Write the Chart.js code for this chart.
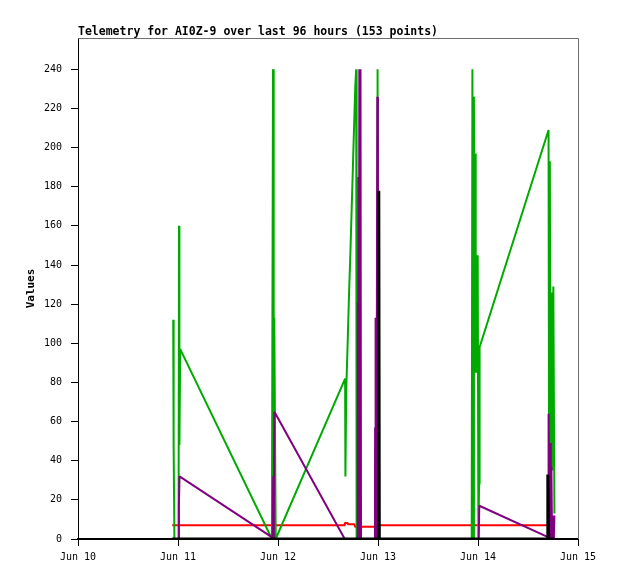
<!DOCTYPE html>
<html>
<head>
<meta charset="utf-8">
<title>Telemetry AI0Z-9</title>
<script src="https://cdn.jsdelivr.net/npm/chart.js@4/dist/chart.umd.min.js"></script>
<style>
  body { margin: 0; background: #fff; }
  #wrap { width: 618px; height: 579px; }
</style>
</head>
<body>
<div id="wrap"><canvas id="myChartTelemetry" width="618" height="579"></canvas></div>
<script>
// hours since Jun 10 00:00
const xTickHours = [0, 24, 48, 72, 96, 120];
const xTickLabels = ['Jun 10', 'Jun 11', 'Jun 12', 'Jun 13', 'Jun 14', 'Jun 15'];
const yTicks = [0, 20, 40, 60, 80, 100, 120, 140, 160, 180, 200, 220, 240];

const greenHours = [22.85, 22.95, 23.14, 24.14, 24.24, 24.34, 24.53, 46.54, 46.80, 46.97, 47.11, 47.45,
  64.11, 64.18, 64.37, 64.62, 64.86, 65.09, 65.36, 65.60, 65.84, 66.08, 66.32, 66.56, 66.77, 66.87,
  71.81, 71.90, 72.00, 94.49, 94.66, 94.82, 95.02, 95.16, 95.30, 95.45, 95.59, 95.74, 95.93, 96.10, 96.26, 96.38,
  112.93, 113.07, 113.24, 113.41, 113.60, 113.79, 114.08, 114.34];
const greenValues = [112, 48, 0, 0, 160, 48, 97, 0, 240, 0, 113, 0,
  82, 32, 76, 93, 111, 128, 145, 163, 180, 198, 215, 232, 240, 0,
  0, 240, 0, 0, 240, 0, 226, 113, 197, 85, 141, 85, 145, 0, 28, 98,
  209, 20, 193, 30, 126, 35, 129, 13];

const purpleHours = [24.10, 24.22, 24.36, 46.51, 46.71, 46.85, 46.99, 47.14, 64.02,
  67.01, 67.11, 67.18, 67.28, 67.37, 67.52, 67.68, 67.80, 67.92,
  71.26, 71.30, 71.38, 71.47, 71.62, 71.83, 71.98, 96.17, 96.31,
  112.81, 112.88, 113.00, 113.14, 113.31, 113.46, 113.62, 113.77, 114.01, 114.20, 114.34];
const purpleValues = [0, 17, 32, 1, 0, 32, 0, 65, 0,
  0, 121, 0, 185, 0, 240, 0, 240, 0,
  0, 57, 0, 113, 0, 226, 0, 0, 17,
  1, 0, 64, 0, 49, 0, 37, 0, 12, 0, 12];

const blackHours = [22.61, 72.10, 72.19, 72.31, 112.66, 112.76, 112.95, 114.44];
const blackValues = [0, 0, 178, 0, 0, 33, 0, 0];

const redHours = [22.61, 63.97, 64.04, 64.69, 64.76, 66.37, 66.49, 71.93, 72.00, 112.76];
const redValues = [7, 7, 8.2, 8.2, 7.5, 7.5, 6.2, 6.2, 7, 7];

function pts(hours, values) {
  return hours.map((h, i) => ({ x: h, y: values[i] }));
}

function serie(hours, values, color, width) {
  return {
    data: pts(hours, values),
    borderColor: color,
    borderWidth: width,
    borderJoinStyle: 'bevel',
    pointRadius: 0,
    tension: 0,
    fill: false
  };
}

// title text and grey frame, gnuplot style
const frameAndTitle = {
  id: 'frameAndTitle',
  beforeDatasetsDraw(chart) {
    const { ctx, chartArea } = chart;
    ctx.save();
    ctx.strokeStyle = '#6e6e6e';
    ctx.lineWidth = 1;
    ctx.beginPath();
    ctx.moveTo(chartArea.left, chartArea.top + 0.5);
    ctx.lineTo(chartArea.right + 0.5, chartArea.top + 0.5);
    ctx.lineTo(chartArea.right + 0.5, chartArea.bottom);
    ctx.stroke();
    ctx.restore();
  },
  afterDraw(chart) {
    const { ctx, chartArea } = chart;
    ctx.save();
    ctx.fillStyle = '#000';
    ctx.font = 'bold 11.5px "DejaVu Sans Mono"';
    ctx.textAlign = 'left';
    ctx.textBaseline = 'alphabetic';
    ctx.fillText('Telemetry for AI0Z-9 over last 96 hours (153 points)', chartArea.left, 35);
    ctx.restore();
  }
};

const tickFont = { family: 'DejaVu Sans Mono', size: 10 };

var config = {
  type: 'line',
  data: {
    datasets: [
      serie(blackHours, blackValues, '#000000', 3),
      serie(purpleHours, purpleValues, '#800080', 2),
      serie(greenHours, greenValues, '#00aa00', 2),
      serie(redHours, redValues, '#ff0000', 2)
    ]
  },
  plugins: [frameAndTitle],
  options: {
    responsive: false,
    animation: false,
    devicePixelRatio: 1,
    layout: { padding: { left: 0, right: 40, top: 38, bottom: 0 } },
    plugins: {
      legend: { display: false },
      tooltip: { enabled: false }
    },
    scales: {
      x: {
        type: 'linear',
        min: 0,
        max: 120,
        afterBuildTicks: (scale) => { scale.ticks = xTickHours.map(v => ({ value: v })); },
        afterFit: (scale) => { scale.height = 40; },
        ticks: {
          color: '#000',
          font: tickFont,
          padding: 5,
          maxRotation: 0,
          callback: (v) => xTickLabels[xTickHours.indexOf(v)]
        },
        grid: { drawOnChartArea: false, drawTicks: true, tickLength: 7, color: '#000' },
        border: { color: '#000', width: 2 }
      },
      y: {
        min: 0,
        max: 256,
        afterBuildTicks: (scale) => { scale.ticks = yTicks.map(v => ({ value: v })); },
        afterFit: (scale) => { scale.width = 78; },
        ticks: { color: '#000', font: tickFont, padding: 9 },
        grid: { drawOnChartArea: false, drawTicks: true, tickLength: 7, color: '#000' },
        border: { color: '#000', width: 1 },
        title: {
          display: true,
          text: 'Values',
          color: '#000',
          font: { family: 'DejaVu Sans Mono', size: 11, weight: 'bold' },
          padding: { top: 25, bottom: 0 }
        }
      }
    }
  }
};

let ctx1 = document.getElementById('myChartTelemetry');
new Chart(ctx1, config);
</script>
</body>
</html>
